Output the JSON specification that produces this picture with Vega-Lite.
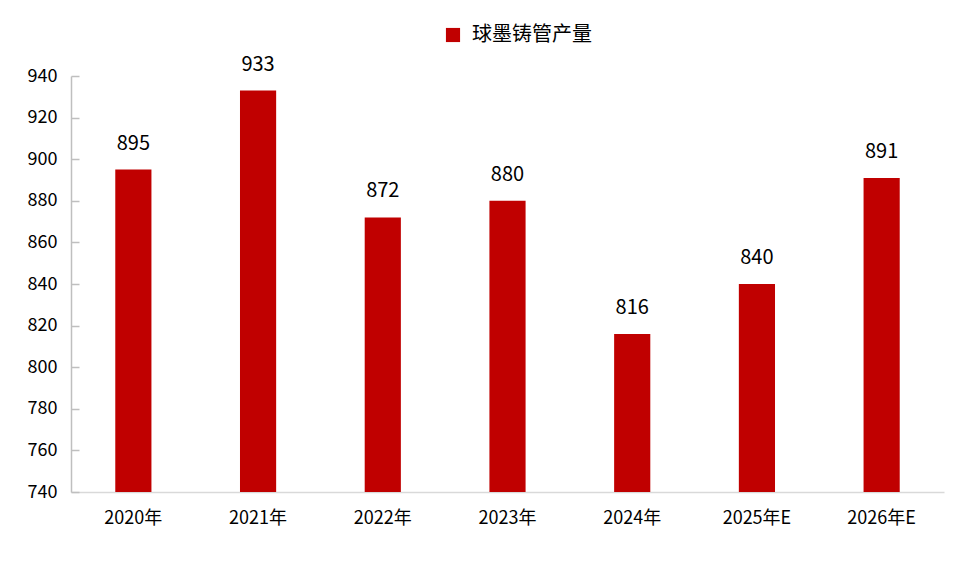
{
  "$schema": "https://vega.github.io/schema/vega-lite/v6.json",
  "width": 873,
  "height": 416,
  "autosize": "none",
  "padding": {"left": 71, "top": 76, "right": 24, "bottom": 79},
  "background": "white",
  "data": {
    "values": [
      {"year": "2020年", "value": 895, "series": "球墨铸管产量"},
      {"year": "2021年", "value": 933, "series": "球墨铸管产量"},
      {"year": "2022年", "value": 872, "series": "球墨铸管产量"},
      {"year": "2023年", "value": 880, "series": "球墨铸管产量"},
      {"year": "2024年", "value": 816, "series": "球墨铸管产量"},
      {"year": "2025年E", "value": 840, "series": "球墨铸管产量"},
      {"year": "2026年E", "value": 891, "series": "球墨铸管产量"}
    ]
  },
  "encoding": {
    "x": {
      "field": "year",
      "type": "nominal",
      "sort": null,
      "title": null,
      "scale": {"paddingInner": 0.71, "paddingOuter": 0.355},
      "axis": {
        "labelAngle": 0,
        "ticks": false,
        "domainColor": "#d9d9d9",
        "domainWidth": 1.5,
        "labelPadding": 17,
        "labelFontSize": 18,
        "labelColor": "#000000",
        "labelFont": "Noto Sans CJK SC"
      }
    },
    "y": {
      "field": "value",
      "type": "quantitative",
      "title": null,
      "scale": {"domain": [740, 940], "zero": false},
      "axis": {
        "values": [740, 760, 780, 800, 820, 840, 860, 880, 900, 920, 940],
        "grid": false,
        "domainColor": "#bfbfbf",
        "domainWidth": 1.5,
        "tickColor": "#bfbfbf",
        "tickWidth": 1.5,
        "tickSize": -8,
        "labelPadding": 22,
        "labelFontSize": 18,
        "labelColor": "#000000",
        "labelFont": "Noto Sans CJK SC"
      }
    }
  },
  "layer": [
    {
      "mark": {"type": "bar", "clip": true},
      "encoding": {
        "color": {
          "field": "series",
          "type": "nominal",
          "title": null,
          "scale": {"range": ["#c00000"]},
          "legend": {
            "orient": "none",
            "legendX": 372,
            "legendY": -51,
            "symbolType": "square",
            "symbolSize": 200,
            "symbolOpacity": 1,
            "labelFontSize": 20,
            "labelFont": "Noto Sans CJK SC",
            "labelColor": "#000000",
            "labelOffset": 9
          }
        }
      }
    },
    {
      "mark": {
        "type": "text",
        "baseline": "alphabetic",
        "dy": -20,
        "fontSize": 20,
        "font": "Noto Sans CJK SC",
        "color": "#000000"
      },
      "encoding": {
        "text": {"field": "value", "type": "quantitative"}
      }
    }
  ],
  "config": {"view": {"stroke": null}}
}
